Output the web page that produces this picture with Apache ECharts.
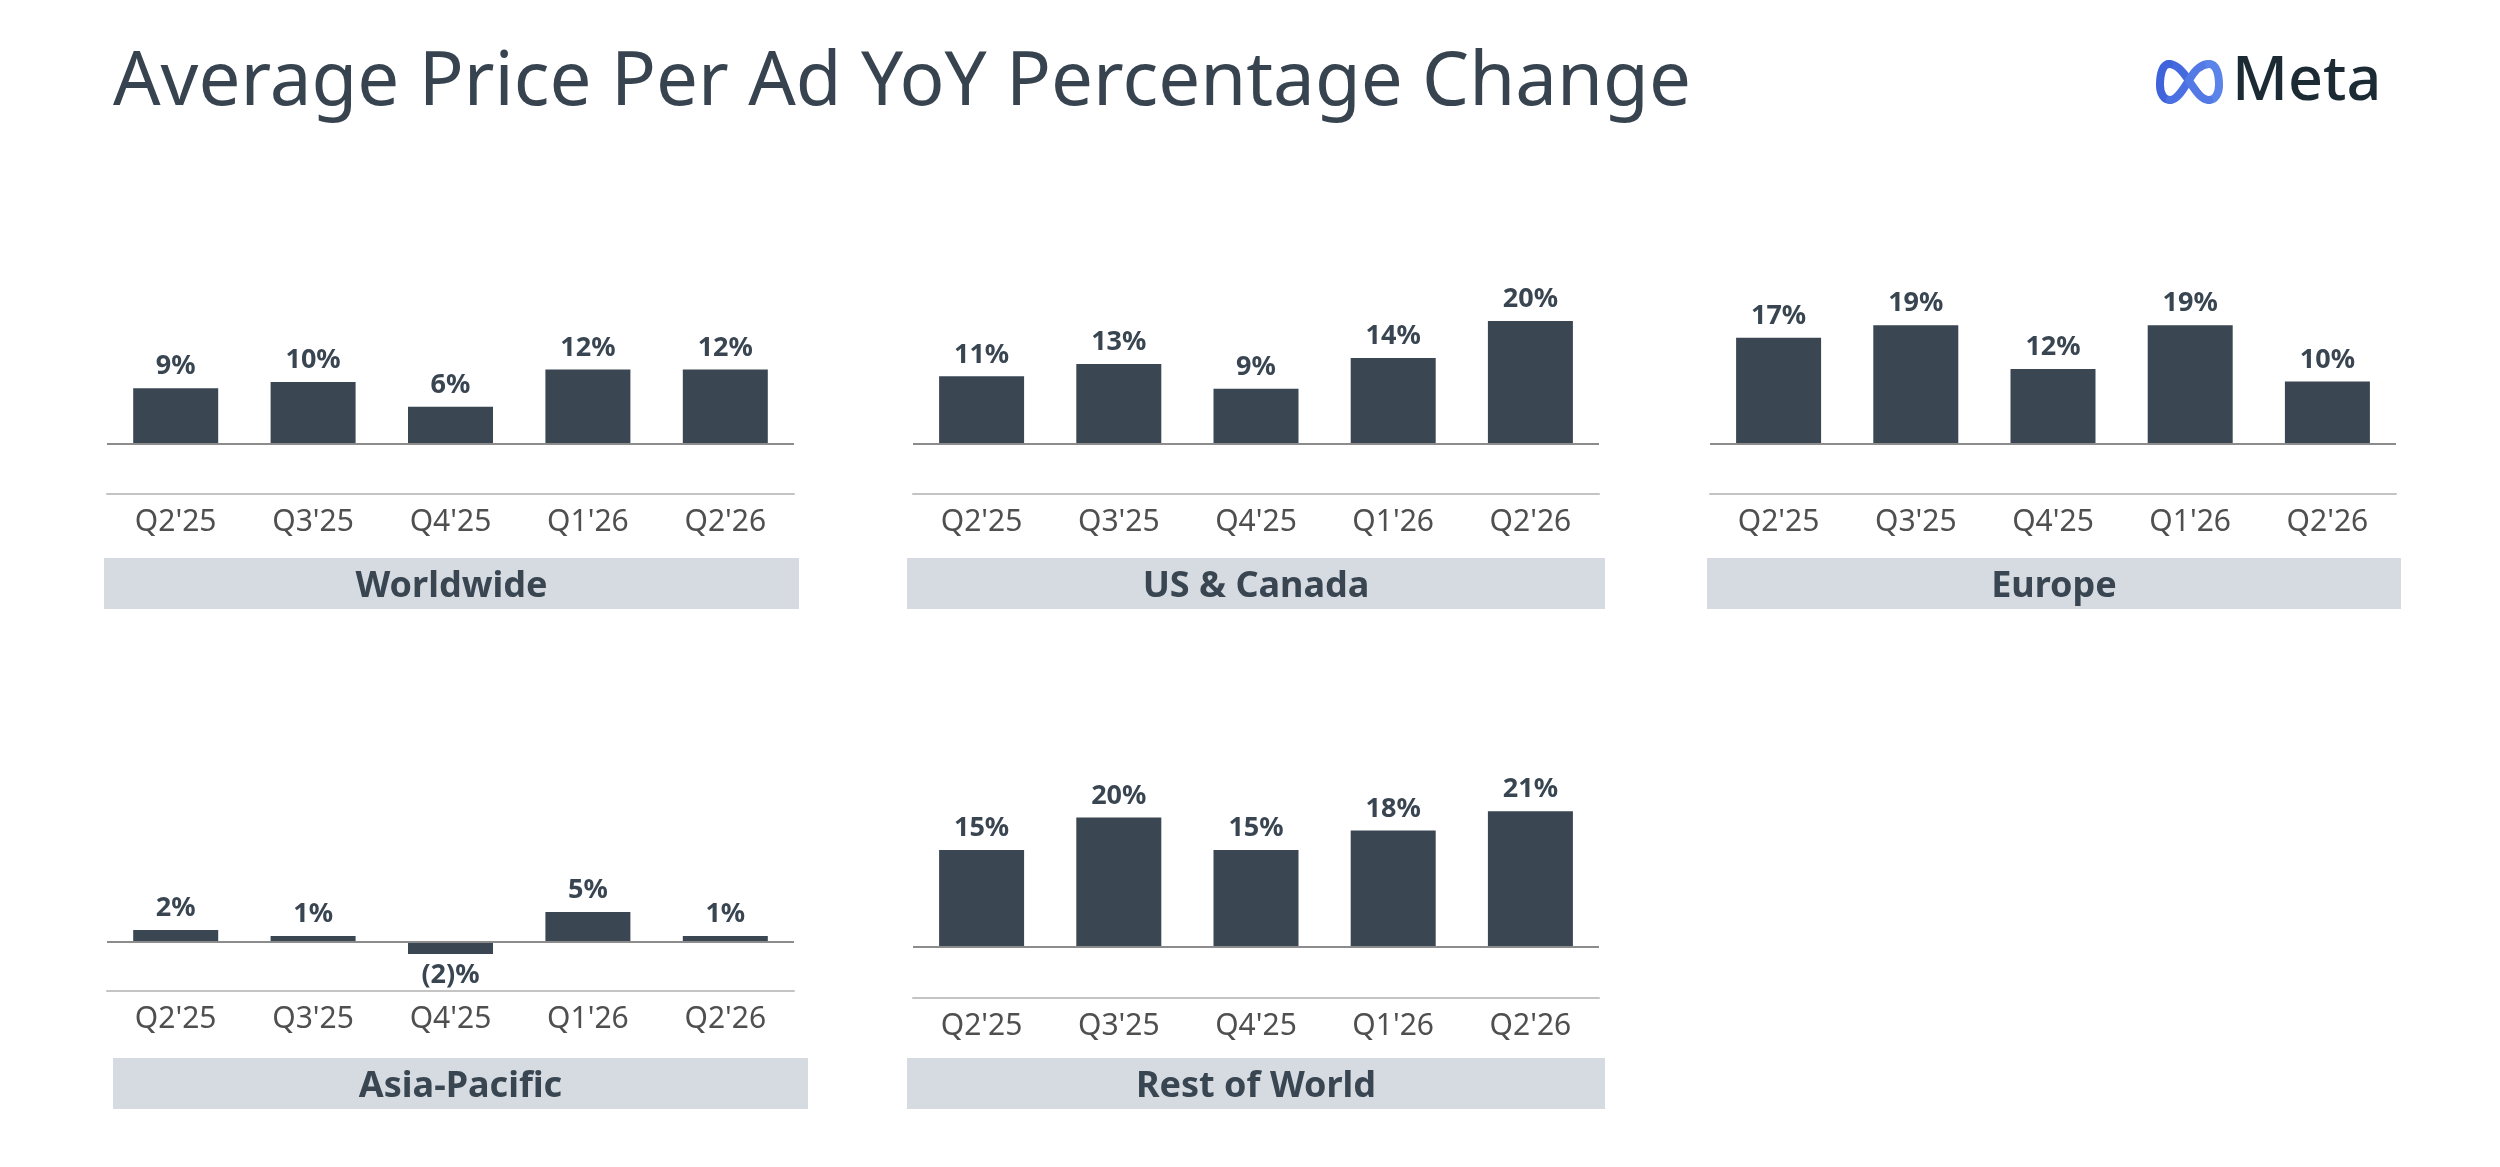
<!DOCTYPE html>
<html>
<head>
<meta charset="utf-8">
<script src="https://cdn.jsdelivr.net/npm/echarts@6/dist/echarts.min.js"></script>
<style>
  html, body { margin: 0; padding: 0; background: #fff; }
  #main { width: 2500px; height: 1167px; }
</style>
</head>
<body>
<div id="main"></div>
<script>
// data
var quarters = ["Q2'25", "Q3'25", "Q4'25", "Q1'26", "Q2'26"];
var worldwide = [9, 10, 6, 12, 12];
var usCanada = [11, 13, 9, 14, 20];
var europe = [17, 19, 12, 19, 10];
var asiaPacific = [2, 1, -2, 5, 1];
var restOfWorld = [15, 20, 15, 18, 21];
var regionNames = ['Worldwide', 'US & Canada', 'Europe', 'Asia-Pacific', 'Rest of World'];
var regionValues = [worldwide, usCanada, europe, asiaPacific, restOfWorld];

// layout: left/right of axis, y of zero line, y of bottom line, px per %, label box
var panels = [
  { x0: 107, x1: 794, zero: 444, low: 494, scale: 6.2, box: [104, 558, 695, 51] },
  { x0: 913, x1: 1599, zero: 444, low: 494, scale: 6.15, box: [907, 558, 698, 51] },
  { x0: 1710, x1: 2396, zero: 444, low: 494, scale: 6.25, box: [1707, 558, 694, 51] },
  { x0: 107, x1: 794, zero: 942, low: 991, scale: 6.0, box: [113, 1058, 695, 51] },
  { x0: 913, x1: 1599, zero: 947, low: 998, scale: 6.47, box: [907, 1058, 698, 51] }
];

var textColor = '#394652';
var barColor = '#3a4651';
var fontFamily = '"Noto Sans", sans-serif';
var yMax = 26;

var grid = [], xAxis = [], yAxis = [], series = [];
var graphic = [];

panels.forEach(function (p, i) {
  var top = p.zero - yMax * p.scale;
  grid.push({ left: p.x0, top: top, width: p.x1 - p.x0, height: p.low - top });
  xAxis.push({
    type: 'category',
    gridIndex: i,
    data: quarters,
    axisLine: { onZero: false, lineStyle: { color: '#c4c4c4', width: 2 } },
    axisTick: { show: false },
    axisLabel: { color: '#4f4f4f', fontSize: 30, fontFamily: fontFamily, margin: 13 }
  });
  yAxis.push({
    type: 'value',
    gridIndex: i,
    min: -(p.low - p.zero) / p.scale,
    max: yMax,
    show: false,
    splitLine: { show: false }
  });
  series.push({
    type: 'bar',
    xAxisIndex: i,
    yAxisIndex: i,
    barWidth: 85,
    itemStyle: { color: barColor },
    data: regionValues[i].map(function (v) {
      return {
        value: v,
        label: { position: v < 0 ? 'bottom' : 'top' }
      };
    }),
    label: {
      show: true,
      distance: 8,
      color: textColor,
      fontSize: 27,
      fontWeight: 'bold',
      fontFamily: fontFamily,
      formatter: function (d) {
        return d.value < 0 ? '(' + (-d.value) + ')%' : d.value + '%';
      }
    },
    markLine: {
      silent: true,
      symbol: ['none', 'none'],
      label: { show: false },
      lineStyle: { color: '#8c8c8c', width: 2, type: 'solid' },
      data: [{ yAxis: 0 }]
    }
  });

  // region name box
  graphic.push({
    type: 'rect',
    shape: { x: p.box[0], y: p.box[1], width: p.box[2], height: p.box[3] },
    style: { fill: '#d5dbe1' },
    z: 0
  });
  graphic.push({
    type: 'text',
    x: p.box[0] + p.box[2] / 2,
    y: p.box[1] + p.box[3] / 2 + 3,
    style: {
      text: regionNames[i],
      fill: textColor,
      font: 'bold 36px ' + fontFamily,
      align: 'center',
      verticalAlign: 'middle'
    },
    z: 1
  });
});

// page title
graphic.push({
  type: 'text',
  x: 113,
  y: 84,
  style: {
    text: 'Average Price Per Ad YoY Percentage Change',
    fill: '#374450',
    font: '74.5px ' + fontFamily,
    verticalAlign: 'middle'
  }
});

// Meta logo: infinity loop from cubic segments
var loop = [
  [34, 22, 26, 9, 20, 5, 14, 5],
  [14, 5, 8, 5, 5, 14, 5, 26],
  [5, 26, 5, 35, 9, 41, 15, 41],
  [15, 41, 22, 41, 28, 31, 34, 21],
  [34, 21, 41, 9, 47, 5, 54, 5],
  [54, 5, 61, 5, 64, 14, 64, 26],
  [64, 26, 64, 35, 60, 41, 54, 41],
  [54, 41, 47, 41, 42, 34, 34, 22]
];
var loopColors = ['#4569de', '#3f63db', '#3f63db', '#4a70e1', '#5279e5', '#5a84ea', '#5a84ea', '#5279e5'];
graphic.push({
  type: 'group',
  x: 2155,
  y: 59,
  children: loop.map(function (s, k) {
    return {
      type: 'bezierCurve',
      shape: { x1: s[0], y1: s[1], cpx1: s[2], cpy1: s[3], cpx2: s[4], cpy2: s[5], x2: s[6], y2: s[7] },
      style: { stroke: loopColors[k], lineWidth: 8, fill: null, lineCap: 'round' }
    };
  })
});
graphic.push({
  type: 'text',
  x: 2232,
  y: 83,
  style: {
    text: 'Meta',
    fill: '#1c2b33',
    font: '500 61px ' + fontFamily,
    verticalAlign: 'middle'
  }
});

var chart = echarts.init(document.getElementById('main'));
chart.setOption({
  backgroundColor: '#ffffff',
  animation: false,
  grid: grid,
  xAxis: xAxis,
  yAxis: yAxis,
  series: series,
  graphic: graphic
});
</script>
</body>
</html>
